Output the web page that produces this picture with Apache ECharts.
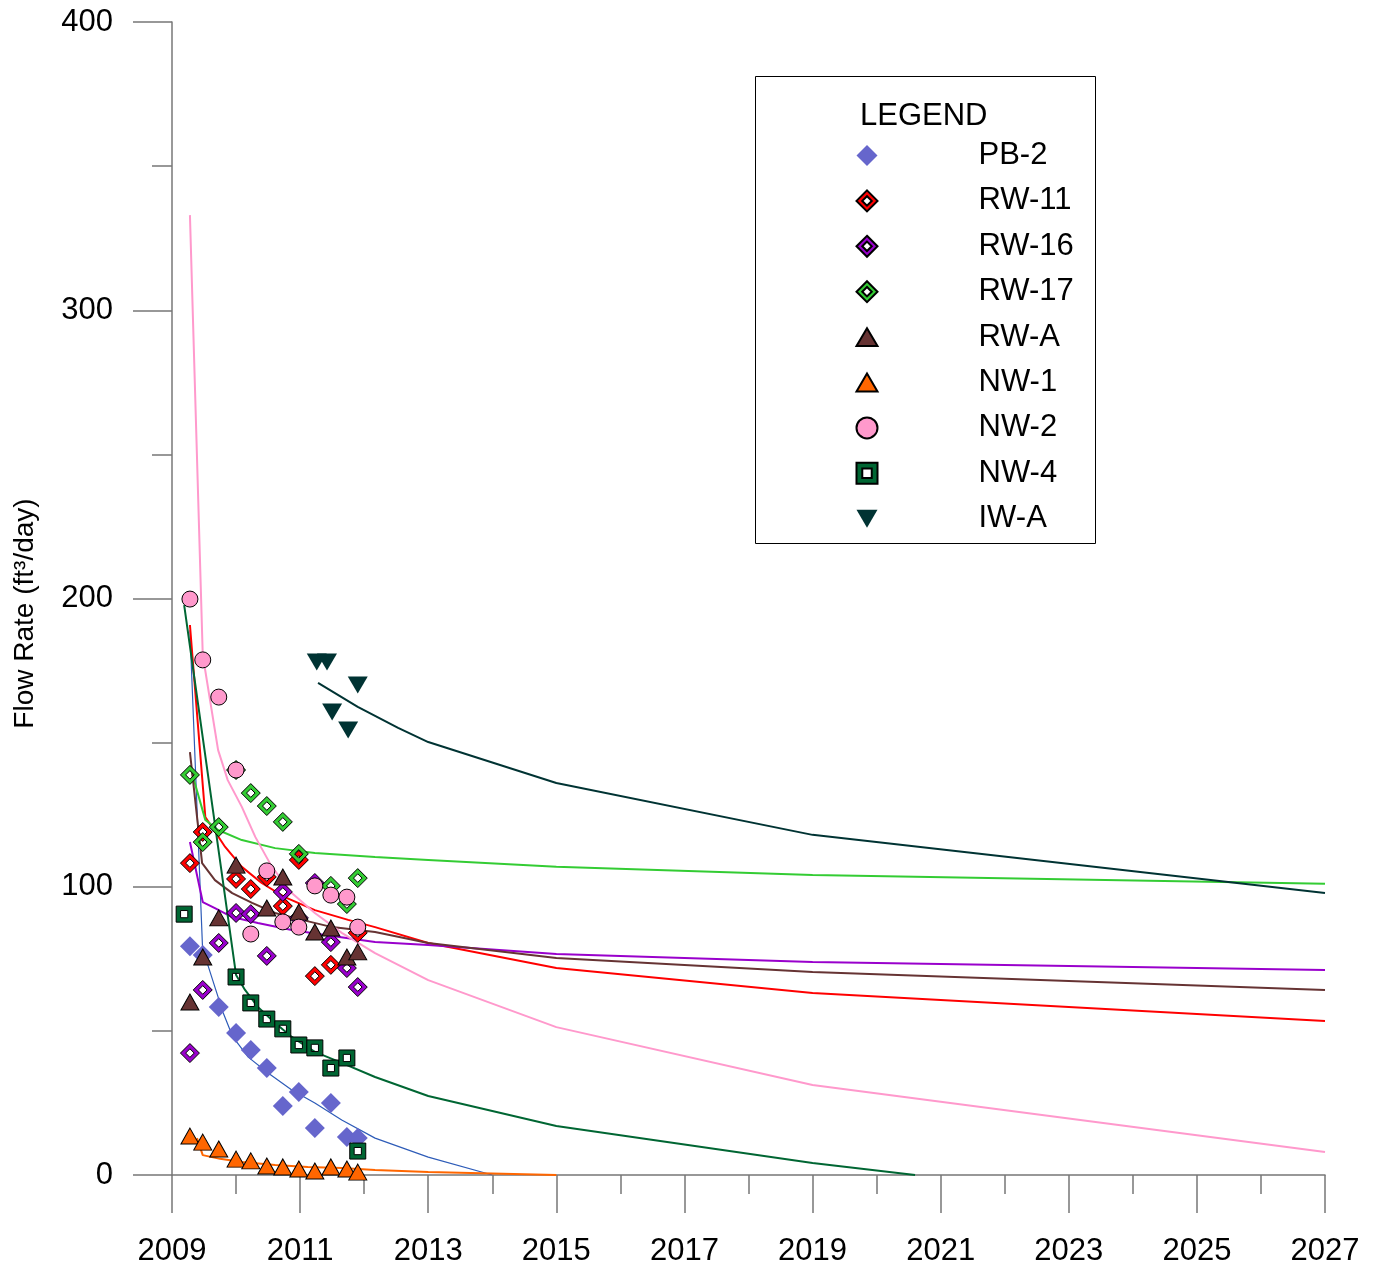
<!DOCTYPE html>
<html><head><meta charset="utf-8">
<script src="https://cdn.jsdelivr.net/npm/echarts@6/dist/echarts.min.js"></script>
<style>html,body{margin:0;padding:0;background:#fff}#c{width:1379px;height:1268px}</style>
</head><body><div id="c"></div>
<script>
// ---------- DATA (measured) ----------
const wellNames = ['PB-2','RW-11','RW-16','RW-17','RW-A','NW-1','NW-2','NW-4','IW-A'];
const xMin = 2009, xMax = 2027, xStep = 2;
const yMin = 0, yMax = 400, yStep = 100;
const yAxisTitle = 'Flow Rate (ft\u00B3/day)';
const legendTitle = 'LEGEND';

// observed data
const pb2Dates = [2009.28,2009.48,2009.73,2010.0,2010.23,2010.48,2010.73,2010.98,2011.23,2011.48,2011.73,2011.9];
const pb2Flow  = [79.4,76.3,58.3,49.3,43.4,37.1,23.9,28.8,16.3,25.0,13.2,12.8];
const rw11Dates = [2009.28,2009.48,2010.0,2010.23,2010.48,2010.73,2010.98,2011.23,2011.48,2011.9];
const rw11Flow  = [108.2,119.0,102.7,99.2,103.4,93.3,109.3,69.0,72.9,84.0];
const rw16Dates = [2009.28,2009.48,2009.73,2010.0,2010.23,2010.48,2010.73,2010.98,2011.23,2011.48,2011.73,2011.9];
const rw16Flow  = [42.3,64.2,80.5,90.9,90.5,76.0,98.2,89.2,101.3,80.8,71.8,65.2];
const rw17Dates = [2009.28,2009.48,2009.73,2010.0,2010.23,2010.48,2010.73,2010.98,2011.48,2011.73,2011.9];
const rw17Flow  = [138.8,115.5,120.7,140.5,132.5,128.0,122.5,111.4,100.3,94.0,103.0];
const rwaDates = [2009.28,2009.48,2009.73,2010.0,2010.48,2010.73,2010.98,2011.23,2011.48,2011.73,2011.9];
const rwaFlow  = [60.0,75.6,89.2,107.5,92.6,103.4,91.2,84.3,85.7,75.6,77.4];
const nw1Dates = [2009.28,2009.48,2009.73,2010.0,2010.23,2010.48,2010.73,2010.98,2011.23,2011.48,2011.73,2011.9];
const nw1Flow  = [13.5,11.4,9.0,5.5,4.9,3.1,2.8,2.1,1.4,2.8,2.1,1.0];
const nw2Dates = [2009.28,2009.48,2009.73,2010.0,2010.23,2010.48,2010.73,2010.98,2011.23,2011.48,2011.73,2011.9];
const nw2Flow  = [199.8,178.7,165.8,140.5,83.6,105.5,87.8,86.0,100.3,97.1,96.4,86.0];
const nw4Dates = [2009.19,2010.0,2010.23,2010.48,2010.73,2010.98,2011.23,2011.48,2011.73,2011.9];
const nw4Flow  = [90.5,68.7,59.7,54.1,50.7,45.1,44.1,37.1,40.6,8.3];
const iwaDates = [2011.26,2011.42,2011.5,2011.75,2011.9];
const iwaFlow  = [178.0,178.0,160.6,154.4,170.0];

// model curves
const pb2ModelYears = [2009.28,2009.48,2009.55,2009.67,2009.8,2009.95,2010.19,2010.5,2010.87,2011.23,2011.65,2012.17,2013,2014];
const pb2ModelFlow  = [189.0,77.0,73.5,65.2,56.2,47.9,40.9,35.4,29.5,25.0,19.1,12.8,6.2,0];
const rw11ModelYears = [2009.28,2009.52,2009.83,2010.09,2010.4,2010.76,2011.23,2011.75,2012.17,2013,2015,2019,2027];
const rw11ModelFlow  = [190.8,124.2,113.8,106.9,101.3,96.4,91.9,88.5,86.0,80.5,71.8,63.1,53.4];
const rw16ModelYears = [2009.28,2009.48,2009.67,2009.94,2010.34,2010.87,2011.39,2012.17,2013,2015,2019,2027];
const rw16ModelFlow  = [115.5,94.7,92.6,89.5,87.4,85.0,83.3,80.8,79.8,76.7,73.9,71.1];
const rw17ModelYears = [2009.28,2009.52,2009.72,2010.09,2010.61,2011.23,2012.17,2013,2015,2019,2027];
const rw17ModelFlow  = [142.0,123.2,119.7,116.2,113.4,111.7,110.3,109.3,106.9,104.1,101.0];
const rwaModelYears = [2009.28,2009.47,2009.67,2009.94,2010.25,2010.61,2011.03,2011.5,2012.17,2013,2015,2019,2027];
const rwaModelFlow  = [146.7,108.2,102.3,97.8,94.4,90.9,88.5,86.0,84.3,80.5,75.3,70.4,64.2];
const nw1ModelYears = [2009.39,2009.48,2009.75,2010.09,2010.61,2011.12,2011.65,2012.17,2013,2015];
const nw1ModelFlow  = [12.8,6.9,5.6,4.5,3.5,2.8,2.4,1.7,1.0,0];
const nw2ModelYears = [2009.28,2009.48,2009.72,2009.87,2010.09,2010.3,2010.56,2010.87,2011.23,2011.65,2012.17,2013,2015,2019,2027];
const nw2ModelFlow  = [333.0,180.4,147.4,137.0,127.7,117.3,106.9,97.8,90.9,84.0,77.0,67.6,51.3,31.2,8.0];
const nw4ModelYears = [2009.19,2010.0,2010.14,2010.34,2010.61,2010.87,2011.23,2011.65,2012.17,2013,2015,2019,2020.6];
const nw4ModelFlow  = [197.7,69.4,64.2,58.3,52.7,47.9,42.7,38.9,34.0,27.4,17.0,4.2,0];
const iwaModelYears = [2011.28,2011.9,2012.53,2013,2015,2019,2027];
const iwaModelFlow  = [170.7,162.4,155.1,150.2,136.0,118.0,97.8];

// ---------- STYLE ----------
const FONT = '"Liberation Sans", Arial, Helvetica, sans-serif';
const AXIS = '#777';
const solidDiamond = 'path://M10,0L20,10L10,20L0,10Z';
const ringDiamond = 'path://M10,0L20,10L10,20L0,10Z M10,5.5L5.5,10L10,14.5L14.5,10Z';
const ringSquare = 'path://M0,0L20,0L20,20L0,20Z M5.5,5.5L5.5,14.5L14.5,14.5L14.5,5.5Z';
const triUp = 'path://M10,0L20,17L0,17Z';
const triDown = 'path://M0,0L20,0L10,17Z';
const zip = (a, b) => a.map((v, i) => [v, b[i]]);

const wells = [
  {name:'PB-2',  d:pb2Dates,  f:pb2Flow,  my:pb2ModelYears,  mf:pb2ModelFlow,  color:'#6666CC', line:'#2E5CB8', lw:1.2, symbol:solidDiamond, size:20, border:null},
  {name:'RW-11', d:rw11Dates, f:rw11Flow, my:rw11ModelYears, mf:rw11ModelFlow, color:'#FF0000', line:'#FF0000', lw:2, symbol:ringDiamond, size:19, border:'#000'},
  {name:'RW-16', d:rw16Dates, f:rw16Flow, my:rw16ModelYears, mf:rw16ModelFlow, color:'#9900CC', line:'#9900CC', lw:2, symbol:ringDiamond, size:19, border:'#000'},
  {name:'RW-17', d:rw17Dates, f:rw17Flow, my:rw17ModelYears, mf:rw17ModelFlow, color:'#33CC33', line:'#33CC33', lw:2, symbol:ringDiamond, size:19, border:'#000'},
  {name:'RW-A',  d:rwaDates,  f:rwaFlow,  my:rwaModelYears,  mf:rwaModelFlow,  color:'#663333', line:'#663333', lw:2, symbol:triUp, size:[18,16], border:'#000'},
  {name:'NW-1',  d:nw1Dates,  f:nw1Flow,  my:nw1ModelYears,  mf:nw1ModelFlow,  color:'#FF6600', line:'#FF6600', lw:2, symbol:triUp, size:[18,16], border:'#000'},
  {name:'NW-2',  d:nw2Dates,  f:nw2Flow,  my:nw2ModelYears,  mf:nw2ModelFlow,  color:'#FF99CC', line:'#FF99CC', lw:2, symbol:'circle', size:16, border:'#000'},
  {name:'NW-4',  d:nw4Dates,  f:nw4Flow,  my:nw4ModelYears,  mf:nw4ModelFlow,  color:'#006633', line:'#006633', lw:2, symbol:ringSquare, size:16, border:'#000'},
  {name:'IW-A',  d:iwaDates,  f:iwaFlow,  my:iwaModelYears,  mf:iwaModelFlow,  color:'#003333', line:'#003333', lw:2, symbol:triDown, size:[20,17], border:null}
];

const series = [];
wells.forEach(w => {
  series.push({
    type:'line', name:w.name + ' model', data:zip(w.my, w.mf),
    showSymbol:false, symbol:'none', silent:true, z:2,
    lineStyle:{color:w.line, width:w.lw}, itemStyle:{color:w.line}
  });
});
wells.forEach(w => {
  series.push({
    type:'scatter', name:w.name, data:zip(w.d, w.f), z:3,
    symbol:w.symbol, symbolSize:w.size,
    itemStyle:{color:w.color, opacity:1,
      borderColor:w.border || w.color, borderWidth:w.border ? 1 : 0}
  });
});

const axisCommon = {
  type:'value',
  axisLine:{show:true, lineStyle:{color:AXIS, width:1.5}},
  splitLine:{show:false},
  axisLabel:{color:'#000', fontSize:31, fontFamily:FONT, showMinLabel:true, showMaxLabel:true,
    formatter:v => String(v)}
};

const chart = echarts.init(document.getElementById('c'), null, {renderer:'canvas'});
chart.setOption({
  animation:false,
  backgroundColor:'#fff',
  textStyle:{fontFamily:FONT},
  title:{text:legendTitle, left:860, top:101, padding:0,
    textStyle:{fontSize:31, fontWeight:'normal', color:'#000', fontFamily:FONT, lineHeight:31}},
  graphic:[{type:'rect', z:-1, shape:{x:755.5, y:76.5, width:340, height:467},
    style:{fill:'#fff', stroke:'#000', lineWidth:1}}],
  legend:{orient:'vertical', left:855.5, top:140, padding:0, itemWidth:21, itemHeight:21, itemGap:14.4,
    selectedMode:false, data:wellNames,
    formatter:name => '{g| }{n|' + name + '}',
    textStyle:{fontSize:31, color:'#000', fontFamily:FONT, lineHeight:31,
      rich:{g:{width:96, fontSize:31, lineHeight:31}, n:{fontSize:31, color:'#000', fontFamily:FONT, lineHeight:31}}}},
  grid:{left:172, right:54, top:22, bottom:93, containLabel:false, outerBoundsMode:'none'},
  xAxis:Object.assign({}, axisCommon, {
    min:xMin, max:xMax, interval:xStep,
    axisTick:{show:true, length:38, lineStyle:{color:AXIS, width:1.5}},
    minorTick:{show:true, splitNumber:2, length:19, lineStyle:{color:AXIS, width:1.5}},
    axisLabel:Object.assign({}, axisCommon.axisLabel, {margin:61})
  }),
  yAxis:Object.assign({}, axisCommon, {
    min:yMin, max:yMax, interval:yStep,
    name:yAxisTitle, nameLocation:'middle', nameGap:133,
    nameTextStyle:{fontSize:28, color:'#000', fontFamily:FONT, padding:[0,30,0,0]},
    axisTick:{show:true, length:39, lineStyle:{color:AXIS, width:1.5}},
    minorTick:{show:true, splitNumber:2, length:20, lineStyle:{color:AXIS, width:1.5}},
    axisLabel:Object.assign({}, axisCommon.axisLabel, {margin:59})
  }),
  series:series
});
</script></body></html>
